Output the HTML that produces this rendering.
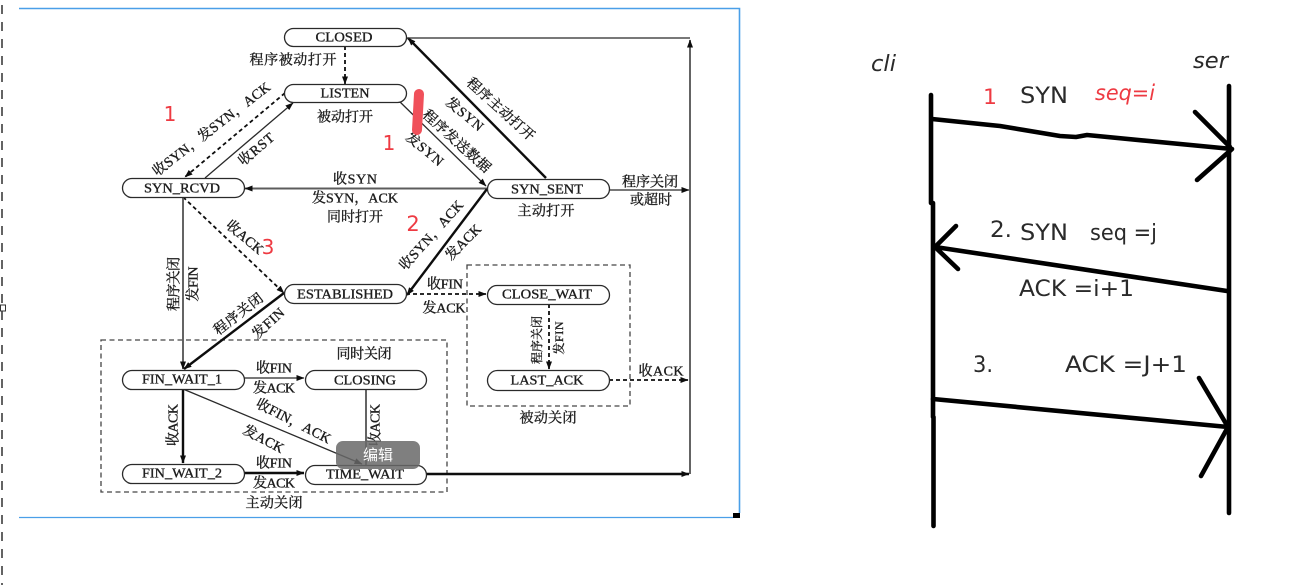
<!DOCTYPE html>
<html><head><meta charset="utf-8">
<style>
html,body{margin:0;padding:0;background:#fff;width:1298px;height:585px;overflow:hidden}
svg{display:block}
.n{font-family:"Liberation Serif","Noto Serif CJK SC",serif;font-size:14px;fill:#1c1c1c;text-anchor:middle;dominant-baseline:central;stroke:#1c1c1c;stroke-width:.35}
.b{fill:#fff;stroke:#2a2a2a;stroke-width:1.3}
.l{fill:none;stroke:#2a2a2a;stroke-width:1.3}
.g{fill:none;stroke:#5c5c5c;stroke-width:1.9}
.t{fill:none;stroke:#0c0c0c;stroke-width:2.4}
.d{fill:none;stroke:#111;stroke-width:1.8;stroke-dasharray:4 3}
.box{fill:none;stroke:#444;stroke-width:1.3;stroke-dasharray:5 3.5}
.h{font-family:"DejaVu Sans",sans-serif;font-size:22px;fill:#2a2a2a}
.r{font-family:"DejaVu Sans",sans-serif;fill:#ee3a42}
.k{fill:none;stroke:#000;stroke-width:4.6;stroke-linecap:round;stroke-linejoin:round}
</style></head><body>
<svg width="1298" height="585" viewBox="0 0 1298 585" xmlns="http://www.w3.org/2000/svg">
<defs>
<marker id="a" viewBox="0 0 8 6" refX="7.5" refY="3" markerUnits="userSpaceOnUse" markerWidth="8" markerHeight="6" orient="auto"><path d="M0 0L8 3L0 6Z" fill="#111"/></marker>
<filter id="bl" x="-2%" y="-2%" width="104%" height="104%"><feGaussianBlur stdDeviation="0.3"/></filter>
</defs>
<rect width="1298" height="585" fill="#fff"/>

<!-- editor edge -->
<line x1="2" y1="5" x2="2" y2="585" stroke="#222" stroke-width="1.4" stroke-dasharray="9 8"/>
<rect x="0.5" y="305" width="5" height="6" fill="#fff" stroke="#333"/>

<!-- selection frame -->
<path d="M19 8.500H739.500V513" fill="none" stroke="#4a9fe8" stroke-width="1.6"/>
<path d="M19 517.500H733" fill="none" stroke="#4a9fe8" stroke-width="1.2"/>
<rect x="733" y="513" width="7" height="5" fill="#000"/>

<g filter="url(#bl)">
<rect class="box" x="101" y="340" width="346" height="152"/>
<rect class="box" x="467" y="265" width="163" height="141"/>

<!-- connectors -->
<path class="d" d="M345 46V84" marker-end="url(#a)"/>
<path class="d" d="M285 93L185 177" marker-end="url(#a)"/>
<path class="l" d="M205 178L293 103" marker-end="url(#a)"/>
<path class="l" d="M399 101L486 186" marker-end="url(#a)"/>
<path class="t" d="M546 178L408 38" marker-end="url(#a)"/>
<path class="l" d="M407 38H690"/>
<path class="g" d="M690 474V40" marker-end="url(#a)"/>
<path class="g" d="M487 188.500H245" marker-end="url(#a)"/>
<path class="l" d="M609 190H689" marker-end="url(#a)"/>
<path class="t" d="M487 189L407 295" marker-end="url(#a)"/>
<path class="d" d="M183 197L284 293" marker-end="url(#a)"/>
<path class="g" d="M183 197V369" marker-end="url(#a)"/>
<path class="t" d="M284 293L184 369" marker-end="url(#a)"/>
<path class="d" d="M406 294H486" marker-end="url(#a)"/>
<path class="d" d="M549 304V369" marker-end="url(#a)"/>
<path class="d" d="M609 380H688" marker-end="url(#a)"/>
<path class="l" d="M244 378H304" marker-end="url(#a)"/>
<path class="t" d="M183 389V463" marker-end="url(#a)"/>
<path class="l" d="M183 389L362 464" marker-end="url(#a)"/>
<path class="g" d="M366 389V465"/>
<path class="t" d="M244 473H304" marker-end="url(#a)"/>
<path class="t" d="M426 474H689" marker-end="url(#a)"/>

<!-- nodes -->
<rect class="b" x="284.500" y="28.500" width="122" height="18" rx="9"/>
<rect class="b" x="284.500" y="84.500" width="122" height="18" rx="9"/>
<rect class="b" x="122.500" y="178.500" width="122" height="19" rx="9.500"/>
<rect class="b" x="487.500" y="179.500" width="122" height="19" rx="9.500"/>
<rect class="b" x="284.500" y="284.500" width="122" height="19" rx="9.500"/>
<rect class="b" x="487.500" y="285.500" width="122" height="19" rx="9.500"/>
<rect class="b" x="487.500" y="370.500" width="122" height="20" rx="10"/>
<rect class="b" x="122.500" y="370.500" width="122" height="19" rx="9.500"/>
<rect class="b" x="305.500" y="370.500" width="121" height="19" rx="9.500"/>
<rect class="b" x="122.500" y="464.500" width="122" height="19" rx="9.500"/>
<rect class="b" x="305.500" y="465.500" width="121" height="19" rx="9.500"/>

<g transform="translate(0 1)">
<text class="n" x="344" y="37" textLength="57" lengthAdjust="spacingAndGlyphs">CLOSED</text>
<text class="n" x="345" y="93" textLength="49" lengthAdjust="spacingAndGlyphs">LISTEN</text>
<text class="n" x="182" y="188" textLength="76" lengthAdjust="spacingAndGlyphs">SYN_RCVD</text>
<text class="n" x="547" y="189" textLength="72" lengthAdjust="spacingAndGlyphs">SYN_SENT</text>
<text class="n" x="345" y="294" textLength="96" lengthAdjust="spacingAndGlyphs">ESTABLISHED</text>
<text class="n" x="547" y="294" textLength="90" lengthAdjust="spacingAndGlyphs">CLOSE_WAIT</text>
<text class="n" x="547" y="380" textLength="73" lengthAdjust="spacingAndGlyphs">LAST_ACK</text>
<text class="n" x="182" y="379" textLength="80" lengthAdjust="spacingAndGlyphs">FIN_WAIT_1</text>
<text class="n" x="365" y="380" textLength="62" lengthAdjust="spacingAndGlyphs">CLOSING</text>
<text class="n" x="182" y="473" textLength="80" lengthAdjust="spacingAndGlyphs">FIN_WAIT_2</text>
<text class="n" x="365" y="474" textLength="78" lengthAdjust="spacingAndGlyphs">TIME_WAIT</text>

<!-- labels -->
<text class="n" x="293" y="60" textLength="87">程序被动打开</text>
<text class="n" x="345" y="117" textLength="56">被动打开</text>
<text class="n" transform="translate(212 129) rotate(-37.500)" textLength="144">收SYN，发SYN，ACK</text>
<text class="n" transform="translate(257 149) rotate(-40)" textLength="42">收RST</text>
<text class="n" x="355" y="179" textLength="44">收SYN</text>
<text class="n" x="355" y="198" textLength="86">发SYN，ACK</text>
<text class="n" x="355" y="217" textLength="56">同时打开</text>
<text class="n" transform="translate(244 237) rotate(40)" textLength="44">收ACK</text>
<text class="n" transform="translate(500 109) rotate(42)" textLength="86">程序主动打开</text>
<text class="n" transform="translate(464 114) rotate(40)" textLength="44">发SYN</text>
<text class="n" transform="translate(456 141) rotate(42)" textLength="86">程序发送数据</text>
<text class="n" transform="translate(424 149) rotate(40)" textLength="44">发SYN</text>
<text class="n" x="650" y="182" textLength="56">程序关闭</text>
<text class="n" x="651" y="200" textLength="42">或超时</text>
<text class="n" x="546" y="211" textLength="57">主动打开</text>
<text class="n" transform="translate(432 235) rotate(-48)" textLength="88">收SYN，ACK</text>
<text class="n" transform="translate(464 242) rotate(-45)" textLength="44">发ACK</text>
<text class="n" transform="translate(175 283) rotate(-90)" textLength="54">程序关闭</text>
<text class="n" transform="translate(194 283) rotate(-90)" textLength="35">发FIN</text>
<text class="n" transform="translate(239 314) rotate(-38)" textLength="58">程序关闭</text>
<text class="n" transform="translate(269 323) rotate(-42)" textLength="38">发FIN</text>
<text class="n" x="274" y="368" textLength="36">收FIN</text>
<text class="n" x="274" y="388" textLength="42">发ACK</text>
<text class="n" x="364" y="354" textLength="55">同时关闭</text>
<text class="n" transform="translate(293 421) rotate(27)" textLength="82">收FIN，ACK</text>
<text class="n" transform="translate(263 439) rotate(28)" textLength="44">发ACK</text>
<text class="n" transform="translate(174 424) rotate(-90)" textLength="42">收ACK</text>
<text class="n" transform="translate(376 424) rotate(-90)" textLength="42">收ACK</text>
<text class="n" x="274" y="463" textLength="36">收FIN</text>
<text class="n" x="274" y="483" textLength="42">发ACK</text>
<text class="n" x="274" y="503" textLength="57">主动关闭</text>
<text class="n" x="445" y="284" textLength="36">收FIN</text>
<text class="n" x="444" y="308" textLength="43">发ACK</text>
<text class="n" transform="translate(537 339) rotate(-90)" textLength="48" style="font-size:12px">程序关闭</text>
<text class="n" transform="translate(559 337) rotate(-90)" textLength="33" style="font-size:12px">发FIN</text>
<text class="n" x="661" y="371" textLength="45">收ACK</text>
<text class="n" x="548" y="418" textLength="57">被动关闭</text>
</g>
</g>

<!-- red annotations -->
<text class="r" x="170" y="121" font-size="20" text-anchor="middle">1</text>
<text class="r" x="389" y="150" font-size="20" text-anchor="middle">1</text>
<text class="r" x="413" y="231" font-size="21" text-anchor="middle">2</text>
<text class="r" x="268" y="254" font-size="20" text-anchor="middle">3</text>
<path d="M419 94L417 130" stroke="#f0505a" stroke-width="10" stroke-linecap="round" fill="none"/>

<!-- tooltip -->
<rect x="336" y="441" width="84" height="28" rx="7" fill="#696969" fill-opacity=".85"/>
<text x="378" y="460" text-anchor="middle" font-family="'Liberation Sans','Noto Sans CJK SC',sans-serif" font-size="15" fill="#fff">编辑</text>

<!-- hand-drawn sequence -->
<path class="k" d="M931 95V203M933 203V417M933.500 417V526"/>
<path class="k" d="M1229 86V513"/>
<path class="k" d="M932 119L1000 126L1060 136L1076 137L1087 135L1232 149M1195 112L1230 147M1197 180L1232 149"/>
<path class="k" d="M1227 291L935 247M956 226L935 247L958 269"/>
<path class="k" d="M933 399L1228 427M1199 378L1228 427L1201 476"/>

<text class="h" x="871" y="71" textLength="25" lengthAdjust="spacingAndGlyphs" font-style="italic">cli</text>
<text class="h" x="1193" y="68" textLength="35" lengthAdjust="spacingAndGlyphs" font-style="italic">ser</text>
<text class="r" x="983" y="104" font-size="21" textLength="14" lengthAdjust="spacingAndGlyphs">1</text>
<text class="h" x="1020" y="103" textLength="48" lengthAdjust="spacingAndGlyphs">SYN</text>
<text class="r" x="1095" y="100" font-size="21" font-style="italic" textLength="60" lengthAdjust="spacingAndGlyphs">seq=i</text>
<text class="h" x="990" y="237" textLength="22" lengthAdjust="spacingAndGlyphs">2.</text>
<text class="h" x="1020" y="240" textLength="48" lengthAdjust="spacingAndGlyphs">SYN</text>
<text class="h" x="1090" y="240" textLength="67" lengthAdjust="spacingAndGlyphs">seq =j</text>
<text class="h" x="1019" y="296" textLength="115" lengthAdjust="spacingAndGlyphs">ACK =i+1</text>
<text class="h" x="973" y="372" textLength="20" lengthAdjust="spacingAndGlyphs">3.</text>
<text class="h" x="1065" y="372" textLength="122" lengthAdjust="spacingAndGlyphs">ACK =J+1</text>
</svg>
</body></html>
